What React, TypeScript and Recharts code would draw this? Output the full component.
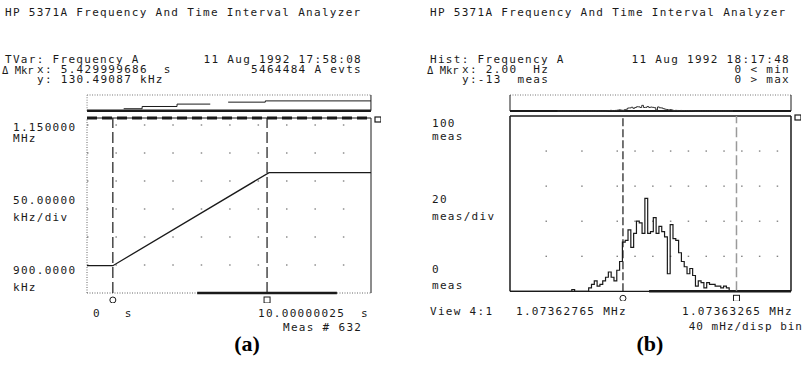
import React from "react";
import {
  CartesianGrid,
  Line,
  LineChart,
  ReferenceDot,
  ReferenceLine,
  XAxis,
  YAxis,
} from "recharts";

// (a) TVar: frequency A vs time
const rampTime = [0, 0.91, 6.41, 10]; // s
const rampFreq = [939, 939, 1072, 1072]; // kHz
const markersA = [0.91, 6.34];
const gridRowsA = [940, 980, 1020, 1060, 1100, 1140];
const scanBarA = [3.88, 8.8];
const trendTime = [1.29, 1.94, 3.17, 4.34, 4.6, 4.97, 6.28, 10];
const trendFreq = [931, 967, 1005, 1005, null, 1036, 1056, 1056];

// (b) histogram of frequency A
const histFirstBin = 22;
const histCounts = [
  1, 0, 0, 0, 0, 0, 2, 4, 6, 3, 4, 6, 8, 11, 8, 6, 12, 17, 28, 29, 35, 25, 33,
  40, 39, 33, 53, 33, 34, 42, 33, 37, 34, 31, 10, 38, 30, 29, 22, 17, 14, 10,
  13, 9, 3, 6, 5, 2, 5, 4, 4, 3, 3, 2, 3, 2,
];
const binTotal = 100;
const markersB = [40.2, 80.6];
const gridRowsB = [20, 40, 60, 80];
const scanBarB = [49.5, 100];

const rampData = rampTime.map((t, i) => ({ t, f: rampFreq[i] }));
const trendData = trendTime.map((t, i) => ({ t, f: trendFreq[i] }));
const histData = Array.from({ length: binTotal + 1 }, (_, b) => {
  const k = b - histFirstBin;
  return { bin: b, n: k >= 0 && k < histCounts.length ? histCounts[k] : 0 };
});

const ink = "#1a1a1a";
const m = { top: 10, right: 10, bottom: 10, left: 10 };

// dots every 17.8px on the right, every other one on the left
const dotsB =
  "0 35.5 1.5 34.2 1.5 33.8 1.5" + " 16.3 1.5".repeat(9) + " 400";

function T({
  x,
  y,
  end,
  ls = 1.3,
  size = 11,
  children,
}: {
  x: number;
  y: number;
  end?: boolean;
  ls?: number;
  size?: number;
  children: React.ReactNode;
}) {
  const pos = end ? { right: 805 - x } : { left: x };
  return (
    <div
      style={{
        position: "absolute",
        top: y - 4.8,
        ...pos,
        fontFamily: "'DejaVu Sans Mono', monospace",
        fontSize: size,
        lineHeight: "10px",
        letterSpacing: ls,
        whiteSpace: "pre",
        color: ink,
      }}
    >
      {children}
    </div>
  );
}

const circleBelow = (p: any) => (
  <circle cx={p.cx} cy={p.cy + 7} r={3} fill="none" stroke={ink} strokeWidth={1} />
);
const squareBelow = (p: any) => (
  <rect x={p.cx - 3} y={p.cy + 4} width={6} height={6} fill="none" stroke={ink} strokeWidth={1} />
);
const squareRight = (p: any) => (
  <rect x={p.cx + 4} y={p.cy - 1} width={6} height={5} fill="none" stroke={ink} strokeWidth={1.2} />
);

function PanelA() {
  return (
    <>
      <div style={{ position: "absolute", left: 77, top: 85 }}>
        <LineChart width={304} height={35.7} data={trendData} margin={m}>
          <XAxis type="number" dataKey="t" domain={[0, 10]} hide />
          <YAxis type="number" domain={[900, 1150]} hide />
          <ReferenceLine y={1150} stroke="#777" strokeDasharray="1 1.5" />
          <ReferenceLine x={0} stroke="#777" strokeDasharray="1 1.5" />
          <ReferenceLine x={10} stroke={ink} />
          <ReferenceLine y={900} stroke={ink} strokeWidth={2.5} />
          <Line
            dataKey="f"
            type="stepAfter"
            stroke={ink}
            strokeWidth={1}
            dot={false}
            connectNulls={false}
            isAnimationActive={false}
          />
        </LineChart>
      </div>
      <div style={{ position: "absolute", left: 77, top: 108 }}>
        <LineChart width={304} height={195} data={rampData} margin={m}>
          <XAxis type="number" dataKey="t" domain={[0, 10]} hide />
          <YAxis type="number" domain={[900, 1150]} ticks={gridRowsA} hide />
          <CartesianGrid
            vertical={false}
            horizontalValues={gridRowsA}
            stroke="#555"
            strokeDasharray="1.5 26.93"
          />
          <ReferenceLine x={0} stroke="#666" strokeDasharray="1 1.5" />
          <ReferenceLine y={900} stroke="#666" strokeDasharray="1 1.5" />
          <ReferenceLine
            segment={[
              { x: scanBarA[0], y: 900 },
              { x: scanBarA[1], y: 900 },
            ]}
            stroke={ink}
            strokeWidth={2.5}
          />
          <ReferenceLine x={10} stroke={ink} />
          <ReferenceLine y={1150} stroke={ink} />
          <ReferenceLine y={1150} stroke={ink} strokeWidth={3} strokeDasharray="10 5" />
          {markersA.map((x) => (
            <ReferenceLine key={x} x={x} stroke={ink} strokeWidth={1.2} strokeDasharray="11 4" />
          ))}
          <Line
            dataKey="f"
            type="linear"
            stroke={ink}
            strokeWidth={1.3}
            dot={false}
            isAnimationActive={false}
          />
          <ReferenceDot x={markersA[0]} y={900} shape={circleBelow} ifOverflow="visible" />
          <ReferenceDot x={markersA[1]} y={900} shape={squareBelow} ifOverflow="visible" />
          <ReferenceDot x={10} y={1150} shape={squareRight} ifOverflow="visible" />
        </LineChart>
      </div>
    </>
  );
}

function PanelB() {
  return (
    <>
      <div style={{ position: "absolute", left: 500, top: 85 }}>
        <LineChart width={301} height={36} data={histData} margin={m}>
          <XAxis type="number" dataKey="bin" domain={[-27, 133]} hide />
          <YAxis type="number" domain={[0, 150]} hide />
          <ReferenceLine y={150} stroke="#777" strokeDasharray="1 1.5" />
          <ReferenceLine x={-27} stroke={ink} />
          <ReferenceLine x={133} stroke={ink} />
          <ReferenceLine y={0} stroke={ink} strokeWidth={2} />
          <Line
            dataKey="n"
            type="stepAfter"
            stroke="#333"
            strokeWidth={1}
            dot={false}
            isAnimationActive={false}
          />
        </LineChart>
      </div>
      <div style={{ position: "absolute", left: 500, top: 106 }}>
        <LineChart width={301} height={195.3} data={histData} margin={m}>
          <XAxis type="number" dataKey="bin" domain={[0, binTotal]} hide />
          <YAxis type="number" domain={[0, 100]} ticks={gridRowsB} hide />
          <CartesianGrid
            vertical={false}
            horizontalValues={gridRowsB}
            stroke="#555"
            strokeDasharray={dotsB}
          />
          <ReferenceLine x={0} stroke={ink} strokeWidth={1.5} />
          <ReferenceLine x={binTotal} stroke={ink} strokeWidth={1.5} />
          <ReferenceLine y={100} stroke={ink} strokeWidth={1.5} />
          <ReferenceLine y={0} stroke={ink} strokeWidth={1.2} />
          <ReferenceLine
            segment={[
              { x: scanBarB[0], y: 0 },
              { x: scanBarB[1], y: 0 },
            ]}
            stroke={ink}
            strokeWidth={2.5}
          />
          <ReferenceLine x={markersB[0]} stroke={ink} strokeWidth={1.2} strokeDasharray="8 3" />
          <ReferenceLine x={markersB[1]} stroke="#9a9a9a" strokeWidth={1.5} strokeDasharray="10 4" />
          <Line
            dataKey="n"
            type="stepAfter"
            stroke={ink}
            strokeWidth={1.2}
            dot={false}
            isAnimationActive={false}
          />
          <ReferenceDot x={markersB[0]} y={0} shape={circleBelow} ifOverflow="visible" />
          <ReferenceDot x={markersB[1]} y={0} shape={squareBelow} ifOverflow="visible" />
          <ReferenceDot x={binTotal} y={100} shape={squareRight} ifOverflow="visible" />
        </LineChart>
      </div>
    </>
  );
}

const capStyle: React.CSSProperties = {
  position: "absolute",
  top: 331,
  width: 60,
  textAlign: "center",
  fontFamily: "'Liberation Serif', serif",
  fontWeight: "bold",
  fontSize: 22,
  lineHeight: "26px",
  color: "#000",
};

export default function App() {
  return (
    <div style={{ position: "relative", width: 805, height: 366, background: "#fff", overflow: "hidden" }}>
      <style>{"body{margin:0}"}</style>
      <PanelA />
      <PanelB />

      <T x={5} y={13}>HP 5371A Frequency And Time Interval Analyzer</T>
      <T x={5} y={60}>TVar: Frequency A</T>
      <T x={362} y={60} end>11 Aug 1992 17:58:08</T>
      <T x={2} y={70} size={10.5} ls={0}>Δ Mkr</T>
      <T x={37} y={70}>x: 5.429999686  s</T>
      <T x={362} y={70} end>5464484 A evts</T>
      <T x={37} y={80}>y: 130.49087 kHz</T>
      <T x={13} y={128}>1.150000</T>
      <T x={13} y={139}>MHz</T>
      <T x={13} y={201}>50.00000</T>
      <T x={13} y={218}>kHz/div</T>
      <T x={13} y={271}>900.0000</T>
      <T x={13} y={288}>kHz</T>
      <T x={93} y={314}>0   s</T>
      <T x={258} y={314}>10.00000025  s</T>
      <T x={283} y={328}>Meas # 632</T>
      <div style={{ ...capStyle, left: 217 }}>(a)</div>

      <T x={430} y={13}>HP 5371A Frequency And Time Interval Analyzer</T>
      <T x={430} y={60}>Hist: Frequency A</T>
      <T x={790} y={60} end>11 Aug 1992 18:17:48</T>
      <T x={427} y={70} size={10.5} ls={0}>Δ Mkr</T>
      <T x={462} y={70}>x: 2.00  Hz</T>
      <T x={790} y={70} end>0 &lt; min</T>
      <T x={462} y={80}>y:-13  meas</T>
      <T x={790} y={80} end>0 &gt; max</T>
      <T x={432} y={124}>100</T>
      <T x={432} y={137}>meas</T>
      <T x={432} y={200}>20</T>
      <T x={432} y={217}>meas/div</T>
      <T x={432} y={270}>0</T>
      <T x={432} y={286}>meas</T>
      <T x={430} y={312}>View 4:1</T>
      <T x={516} y={312}>1.07362765 MHz</T>
      <T x={682} y={312}>1.07363265 MHz</T>
      <T x={803} y={327} end ls={1}>40 mHz/disp bin</T>
      <div style={{ ...capStyle, left: 620 }}>(b)</div>
    </div>
  );
}
